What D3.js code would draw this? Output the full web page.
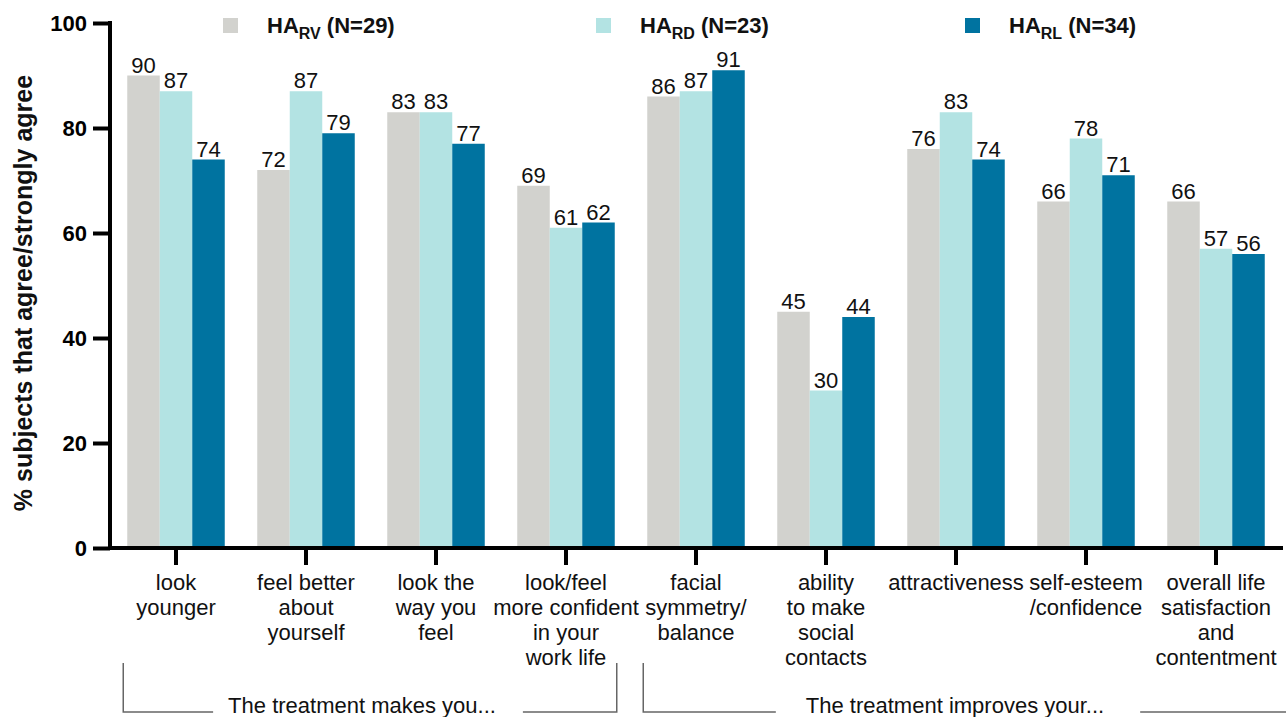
<!DOCTYPE html>
<html>
<head>
<meta charset="utf-8">
<script src="https://cdn.jsdelivr.net/npm/d3@7"></script>
<style>
  body { margin: 0; background: #fff; }
  svg { display: block; font-family: "Liberation Sans", Arial, sans-serif; }
</style>
</head>
<body>
<div id="chart"></div>
<script>
// Chart data
const categories = [
  "look\nyounger",
  "feel better\nabout\nyourself",
  "look the\nway you\nfeel",
  "look/feel\nmore confident\nin your\nwork life",
  "facial\nsymmetry/\nbalance",
  "ability\nto make\nsocial\ncontacts",
  "attractiveness",
  "self-esteem\n/confidence",
  "overall life\nsatisfaction\nand\ncontentment"
];
const seriesNames = ["RV", "RD", "RL"];
const seriesN = [29, 23, 34];
const seriesColors = ["#d2d2ce", "#b3e3e3", "#0073a0"];
const valuesRV = [90, 72, 83, 69, 86, 45, 76, 66, 66];
const valuesRD = [87, 87, 83, 61, 87, 30, 83, 78, 57];
const valuesRL = [74, 79, 77, 62, 91, 44, 74, 71, 56];
const yTicks = [0, 20, 40, 60, 80, 100];
const groupLabels = ["The treatment makes you...", "The treatment improves your..."];
const groupRanges = [[0, 3], [4, 8]];

const allValues = [valuesRV, valuesRD, valuesRL];

const W = 1286, H = 717;
const svg = d3.select("#chart").append("svg")
  .attr("width", W).attr("height", H);

// Scales
const x = d3.scaleBand()
  .domain(d3.range(categories.length))
  .range([111, 1281])
  .paddingInner(0.25)
  .paddingOuter(0.125);

const xs = d3.scaleBand()
  .domain(seriesNames)
  .range([0, x.bandwidth()]);

const y = d3.scaleLinear()
  .domain([0, 100])
  .range([548, 23]);

// Bars + value labels
seriesNames.forEach((s, si) => {
  const g = svg.append("g");
  g.selectAll("rect")
    .data(allValues[si])
    .enter().append("rect")
    .attr("x", (d, i) => x(i) + xs(s))
    .attr("y", d => y(d))
    .attr("width", xs.bandwidth())
    .attr("height", d => y(0) - y(d))
    .attr("fill", seriesColors[si]);

  g.selectAll("text")
    .data(allValues[si])
    .enter().append("text")
    .attr("x", (d, i) => x(i) + xs(s) + xs.bandwidth() / 2)
    .attr("y", d => y(d) - 3)
    .attr("text-anchor", "middle")
    .attr("font-size", 22)
    .attr("fill", "#111")
    .text(d => d);
});

// Y axis
const yAxis = svg.append("g")
  .attr("transform", "translate(110,0)")
  .call(d3.axisLeft(y).tickValues(yTicks).tickSize(17).tickPadding(6));
yAxis.select(".domain").attr("stroke", "#000").attr("stroke-width", 4)
  .attr("d", `M0,${y(100) - 2}V${y(0) + 2}`);
yAxis.selectAll(".tick line").attr("stroke", "#000").attr("stroke-width", 4);
yAxis.selectAll(".tick text")
  .attr("font-size", 22).attr("font-weight", "bold").attr("fill", "#000")
  .attr("font-family", "Liberation Sans, Arial, sans-serif");

// X axis
const xAxis = svg.append("g")
  .attr("transform", `translate(0,${y(0)})`)
  .call(d3.axisBottom(x).tickSize(17).tickFormat(""));
xAxis.select(".domain").attr("stroke", "#000").attr("stroke-width", 4)
  .attr("d", "M108,0H1283");
xAxis.selectAll(".tick line").attr("stroke", "#000").attr("stroke-width", 4);

// Category labels (multi-line)
svg.append("g").selectAll("text")
  .data(categories)
  .enter().append("text")
  .attr("text-anchor", "middle")
  .attr("font-size", 22)
  .attr("fill", "#111")
  .each(function(d, i) {
    const t = d3.select(this);
    d.split("\n").forEach((line, li) => {
      t.append("tspan")
        .attr("x", x(i) + x.bandwidth() / 2)
        .attr("y", 590 + li * 25)
        .text(line);
    });
  });

// Y axis title
svg.append("text")
  .attr("transform", "translate(32,293) rotate(-90)")
  .attr("text-anchor", "middle")
  .attr("font-size", 25)
  .attr("font-weight", "bold")
  .attr("fill", "#111")
  .text("% subjects that agree/strongly agree");

// Legend
const legendX = [223, 596, 965];
seriesNames.forEach((s, si) => {
  const lg = svg.append("g").attr("transform", `translate(${legendX[si]},0)`);
  lg.append("rect")
    .attr("x", 0).attr("y", 18)
    .attr("width", 15).attr("height", 15)
    .attr("fill", seriesColors[si]);
  const t = lg.append("text")
    .attr("x", 44).attr("y", 33)
    .attr("font-size", 22).attr("font-weight", "bold").attr("fill", "#111");
  t.append("tspan").text("HA");
  t.append("tspan").attr("dy", 6).attr("font-size", 16).text(s);
  t.append("tspan").attr("dy", -6).text(` (N=${seriesN[si]})`);
});

// Group brackets
const bracketY = 712, bracketTop = 663;
const gapLeft = [15, 30], gapRight = [27, 36];
groupRanges.forEach((r, gi) => {
  const x0 = x(r[0]) + xs(seriesNames[0]) - 4;
  const x1 = gi === 0 ? x(r[1]) + x.bandwidth() + 2 : W + 10;
  const cx = gi === 0 ? (x0 + x1) / 2 - 8 : x(6) + x.bandwidth() / 2 - 1;
  const g = svg.append("g");
  const label = g.append("text")
    .attr("x", cx).attr("y", bracketY + 1)
    .attr("text-anchor", "middle")
    .attr("font-size", 22)
    .attr("fill", "#111")
    .text(groupLabels[gi]);
  const half = label.node().getComputedTextLength() / 2;
  g.append("path")
    .attr("d", `M${x0},${bracketTop}V${bracketY}H${cx - half - gapLeft[gi]}`)
    .attr("fill", "none").attr("stroke", "#666").attr("stroke-width", 1.5);
  g.append("path")
    .attr("d", gi === 0
      ? `M${cx + half + gapRight[gi]},${bracketY}H${x1}V${bracketTop}`
      : `M${cx + half + gapRight[gi]},${bracketY}H${x1}`)
    .attr("fill", "none").attr("stroke", "#666").attr("stroke-width", 1.5);
});
</script>
</body>
</html>
